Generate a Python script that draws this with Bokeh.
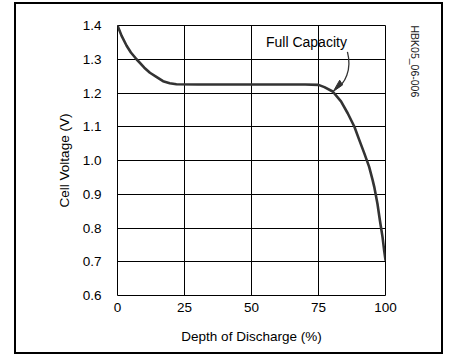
import math
from bokeh.plotting import figure
from bokeh.models import (Range1d, FixedTicker, NumeralTickFormatter, Label,
                          Title, ColumnDataSource)
from bokeh.embed import file_html
from bokeh.resources import INLINE

# --- data ---
depth = [0, 1.5, 3.4, 5, 7.1, 10, 12.1, 14.5, 17, 19.5, 22, 30, 50, 70, 75,
         77.2, 80.3, 83.4, 85.9, 88.4, 90.2, 92.1, 93.9, 95.2, 95.8, 97.0,
         97.9, 98.9, 99.5, 100]
voltage = [1.4, 1.37, 1.34, 1.32, 1.30, 1.275, 1.26, 1.248, 1.235, 1.229, 1.226,
           1.225, 1.225, 1.225, 1.224, 1.2175, 1.2045, 1.175, 1.14, 1.1, 1.061,
           1.021, 0.981, 0.942, 0.922, 0.872, 0.823, 0.773, 0.733, 0.705]
x_ticks = [0, 25, 50, 75, 100]
y_ticks = [0.6, 0.7, 0.8, 0.9, 1.0, 1.1, 1.2, 1.3, 1.4]
annotation_text = "Full Capacity"
figure_code = "HBK05_06-006"

FONT = "Liberation Sans"

p = figure(width=429, height=352, output_backend="svg", toolbar_location=None,
           x_range=Range1d(0, 100), y_range=Range1d(0.6, 1.4),
           min_border_left=101, min_border_right=59, min_border_top=21,
           min_border_bottom=61)
p.margin = (2, 0, 0, 14)
p.styles = {"border": "2.6px solid black"}
p.background_fill_color = "white"
p.border_fill_color = "white"
p.outline_line_color = "black"
p.outline_line_width = 1

p.xaxis.ticker = FixedTicker(ticks=x_ticks)
p.yaxis.ticker = FixedTicker(ticks=y_ticks)
p.yaxis.formatter = NumeralTickFormatter(format="0.0")
for ax in (p.xaxis[0], p.yaxis[0]):
    ax.axis_line_color = None
    ax.major_tick_line_color = None
    ax.minor_tick_line_color = None
    ax.major_tick_out = 0
    ax.major_tick_in = 0
    ax.major_label_text_font = FONT
    ax.major_label_text_font_size = "13.5px"
    ax.major_label_text_color = "black"
    ax.axis_label_text_font = FONT
    ax.axis_label_text_font_size = "13.5px"
    ax.axis_label_text_font_style = "normal"
    ax.axis_label_text_color = "black"

p.xaxis.axis_label = "Depth of Discharge (%)"
p.yaxis.axis_label = "Cell Voltage (V)"
p.yaxis.major_label_standoff = 16
p.yaxis.axis_label_standoff = 8
p.xaxis.major_label_standoff = 7
p.xaxis.axis_label_standoff = 14

p.xgrid.grid_line_color = "black"
p.ygrid.grid_line_color = "black"
p.xgrid.grid_line_width = 1
p.ygrid.grid_line_width = 1
p.xgrid.grid_line_alpha = 1
p.ygrid.grid_line_alpha = 1

src = ColumnDataSource(dict(x=depth, y=voltage))
p.line("x", "y", source=src, line_color="#333333", line_width=2.6,
       line_join="round", line_cap="round")

# annotation arrow (curved) and label
p.bezier(x0=[85.8], y0=[1.322], x1=[81.2], y1=[1.212],
         cx0=[87.5], cy0=[1.27], cx1=[85.0], cy1=[1.225],
         line_color="#333333", line_width=1.3)
p.patch(x=[80.5, 82.9, 84.0], y=[1.2045, 1.238, 1.224],
        fill_color="#333333", line_color="#333333", line_width=1)

p.add_layout(Label(x=70.5, y=1.352, text=annotation_text, text_font=FONT,
                   text_font_size="14px", text_align="center",
                   text_baseline="middle", text_color="black"))

p.add_layout(Title(text=figure_code, align="left", standoff=46,
                   text_font=FONT, text_font_size="10.5px",
                   text_font_style="normal", text_color="#222222"), "right")

open("out.html", "w").write(file_html(p, INLINE))
